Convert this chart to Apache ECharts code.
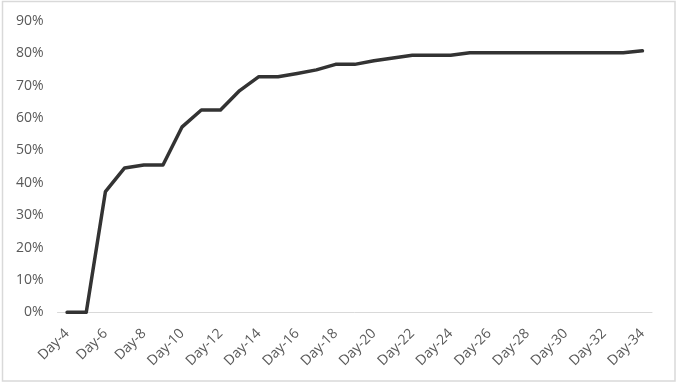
<!DOCTYPE html>
<html>
<head>
<meta charset="utf-8">
<script src="https://cdn.jsdelivr.net/npm/echarts@6/dist/echarts.min.js"></script>
<style>
  html, body { margin: 0; padding: 0; background: #fff; }
  #chart { width: 678px; height: 385px; }
</style>
</head>
<body>
<div id="chart"></div>
<script>
const categories = [];
for (let d = 4; d <= 34; d++) categories.push('Day-' + d);

const values = [
  0, 0, 37.3, 44.6, 45.5, 45.5, 57.3, 62.5, 62.5, 68.5,
  72.8, 72.8, 73.8, 74.9, 76.6, 76.6, 77.7, 78.6, 79.4, 79.4,
  79.4, 80.2, 80.2, 80.2, 80.2, 80.2, 80.2, 80.2, 80.2, 80.2,
  80.8
];

const yTicks = [0, 10, 20, 30, 40, 50, 60, 70, 80, 90];

const chart = echarts.init(document.getElementById('chart'));
chart.setOption({
  animation: false,
  backgroundColor: '#ffffff',
  graphic: [{
    type: 'rect',
    shape: { x: 2.5, y: 1.5, width: 672.5, height: 379.5 },
    style: { fill: 'none', stroke: '#d9d9d9', lineWidth: 1.5 },
    silent: true
  }],
  grid: { left: 57.5, right: 26, top: 21, bottom: 72.7, containLabel: false },
  xAxis: {
    type: 'category',
    data: categories,
    boundaryGap: true,
    axisLine: { lineStyle: { color: '#d9d9d9', width: 1 } },
    axisTick: { show: false },
    axisLabel: {
      interval: 1,
      rotate: 45,
      margin: 19,
      color: '#595959',
      fontFamily: 'Open Sans',
      fontSize: 14
    }
  },
  yAxis: {
    type: 'value',
    min: yTicks[0],
    max: yTicks[yTicks.length - 1],
    interval: 10,
    axisLine: { show: false },
    axisTick: { show: false },
    splitLine: { show: false },
    axisLabel: {
      margin: 14,
      color: '#595959',
      fontFamily: 'Open Sans',
      fontSize: 14,
      formatter: v => v + '%'
    }
  },
  series: [{
    type: 'line',
    data: values,
    symbol: 'none',
    lineStyle: { color: '#333333', width: 3.5, cap: 'round', join: 'round' }
  }]
});
</script>
</body>
</html>
